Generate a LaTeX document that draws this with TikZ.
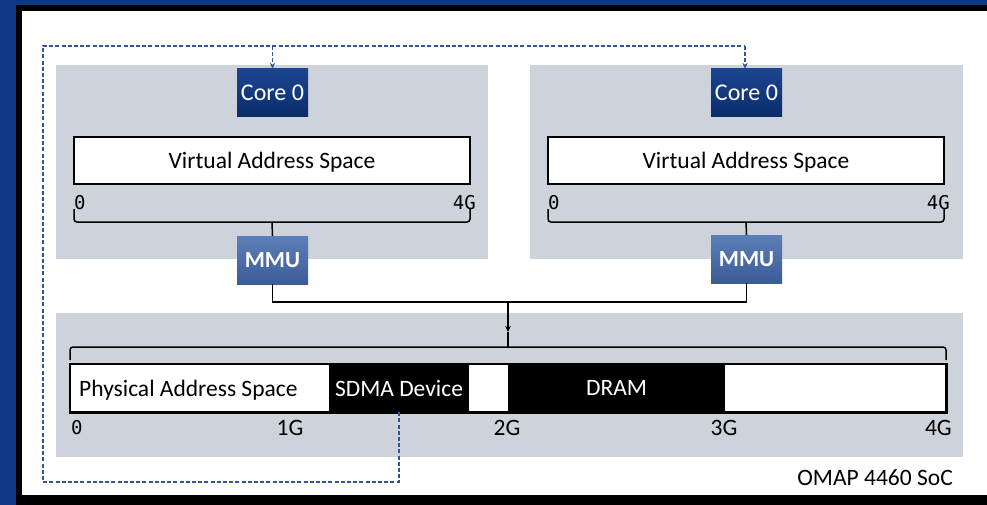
\documentclass[tikz,border=0pt]{standalone}
\usepackage{fontspec}
\setmainfont{Carlito}
\newfontfamily\monof{DejaVu Sans Mono}
\usetikzlibrary{arrows.meta}
\definecolor{bgblue}{HTML}{0E3A85}
\definecolor{panelgray}{HTML}{CED2DB}
\definecolor{coretop}{HTML}{1B4592}
\definecolor{corebot}{HTML}{0B2C69}
\definecolor{mmutop}{HTML}{5C7EB9}
\definecolor{mmubot}{HTML}{3C5C97}
\definecolor{dashblue}{HTML}{2E5596}
\tikzset{
  txt/.style={font=\fontsize{23.5}{27}\selectfont, inner sep=0pt},
  boxtxt/.style={txt, text depth=0pt},
  mono/.style={font=\monof\fontsize{19}{23}\selectfont, inner sep=0pt},
  panel/.style={fill=panelgray, draw=none, inner sep=0pt},
  corebox/.style={top color=coretop, bottom color=corebot, draw=none, text=white,
    minimum width=71pt, minimum height=48pt, inner sep=0pt, text depth=0pt, font=\fontsize{24}{28}\selectfont},
  mmubox/.style={top color=mmutop, bottom color=mmubot, draw=none, text=white,
    minimum width=71pt, minimum height=48pt, inner sep=0pt, text depth=0pt, font=\bfseries\fontsize{23}{27}\selectfont},
  spacebox/.style={fill=white, draw=black, line width=1.5pt, inner sep=0pt},
  segbox/.style={fill=black, minimum height=48pt, inner sep=0pt, text=white, boxtxt},
  brace/.style={draw=black, line width=1.5pt, rounded corners=3pt},
  conn/.style={draw=black, line width=1.5pt},
  dashconn/.style={draw=dashblue, line width=1.5pt, dash pattern=on 4pt off 2.2pt},
  tip/.style={-{Stealth[length=6pt,width=5.5pt]}}
}
\begin{document}
\begin{tikzpicture}[x=1pt,y=-1pt]
\useasboundingbox (0,0) rectangle (987,505);
% frame
\fill[bgblue] (0,0) rectangle (987,505);
\fill[black] (16,5) rectangle (987,505);
\fill[white] (22,11) rectangle (987,495);
% panels
\node[panel, minimum width=432pt, minimum height=194pt] (pl) at (272,162) {};
\node[panel, minimum width=433pt, minimum height=194pt] (pr) at (746.5,162) {};
\node[panel, minimum width=907pt, minimum height=144pt] (pb) at (509.5,385) {};
% cores
\node[corebox] (cl) at (272.5,93) {Core 0};
\node[corebox] (cr) at (746.5,93) {Core 0};
% virtual address spaces
\node[spacebox, minimum width=396pt, minimum height=47pt, boxtxt] (vl) at (272,160.5) {Virtual Address Space};
\node[spacebox, minimum width=396pt, minimum height=47pt, boxtxt] (vr) at (746,160.5) {Virtual Address Space};
% labels top
\node[mono, anchor=west] (l0) at (74,203) {0};
\node[mono, anchor=east] (l4) at (476,203) {4G};
\node[mono, anchor=west] (r0) at (548,203) {0};
\node[mono, anchor=east] (r4) at (950,203) {4G};
% braces top
\coordinate (bl) at (272,222);
\coordinate (br) at (746,222);
\draw[brace] (74,209) -- (74,222) -- (470,222) -- (470,209);
\draw[brace] (548,209) -- (548,222) -- (944,222) -- (944,209);
% MMUs
\node[mmubox] (ml) at (272.5,260) {MMU};
\node[mmubox] (mr) at (746.5,259) {MMU};
\draw[conn] (bl) -- (ml.north);
\draw[conn] (br) -- (mr.north);
% bus
\coordinate (bus) at (508,302);
\draw[conn] (ml.south) |- (bus) -| (mr.south);
\coordinate (bc) at (508,347);
\coordinate (bt) at (508,332);
\draw[conn, tip] (bus) -- (bt);
\draw[conn] (bt) -- (bc);
\draw[brace] (70,360) -- (70,347) -- (946,347) -- (946,360);
% physical bar
\node[spacebox, minimum width=876pt, minimum height=48pt] (bar) at (508,388) {};
\node[segbox, minimum width=140pt] (sdma) at (399,388) {SDMA Device};
\node[segbox, minimum width=217pt] (dram) at (616.5,388) {DRAM};
\draw[black, line width=1.5pt] (bar.north west) rectangle (bar.south east);
\node[txt, anchor=west] (pas) at (79,390.5) {Physical Address Space};
% bottom labels
\node[mono, anchor=west] (b0) at (71,428) {0};
\node[txt] (b1) at (290,428) {1G};
\node[txt] (b2) at (507,428) {2G};
\node[txt] (b3) at (724,428) {3G};
\node[txt, anchor=east] (b4) at (952,428) {4G};
\node[txt, anchor=east] (soc) at (953,478) {OMAP 4460 SoC};
% dashed feedback
\coordinate (d1) at (399,482);
\coordinate (d2) at (43,482);
\coordinate (d3) at (43,46);
\coordinate (d4) at (745,46);
\coordinate (d5) at (272.5,46);
\draw[dashconn] (sdma.south -| d1) -- (d1) -- (d2) -- (d3) -- (d4);
\draw[dashconn, tip] (d4) -- (d4 |- cr.north);
\draw[dashconn, tip] (d5) -- (cl.north);
\end{tikzpicture}
\end{document}
